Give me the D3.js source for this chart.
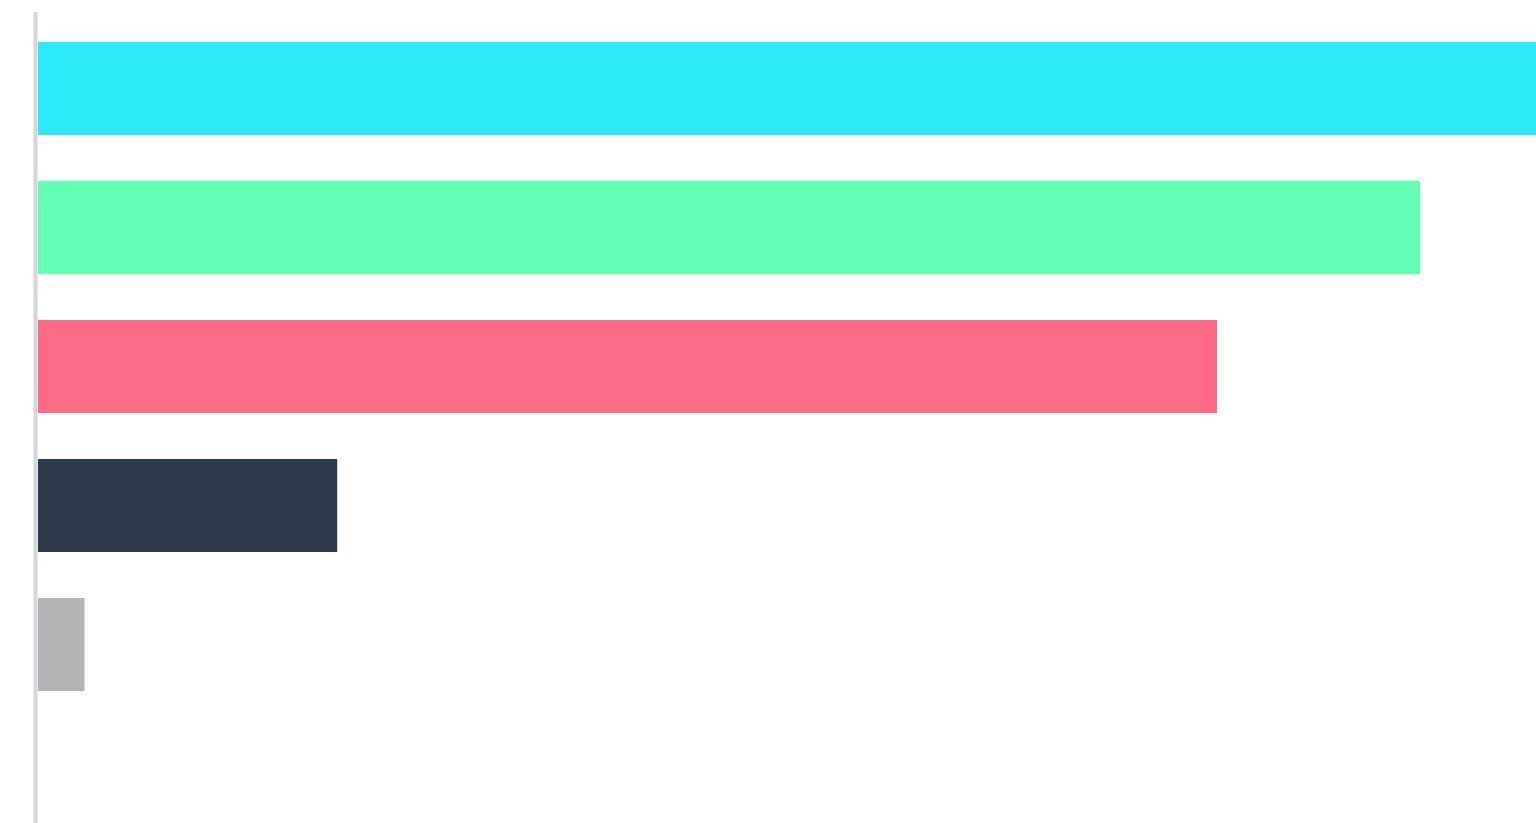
<!DOCTYPE html>
<html>
<head>
<meta charset="utf-8">
<script src="https://cdn.jsdelivr.net/npm/d3@7"></script>
<style>
  html, body { margin: 0; padding: 0; background: #ffffff; overflow: hidden; }
  svg { display: block; }
</style>
</head>
<body>
<div id="chart"></div>
<script>
const categories = ["A", "B", "C", "D", "E"];
const values = [100, 92.15, 78.6, 19.95, 3.1];
const colors = ["#2DE9F8", "#63FFB3", "#FC6B84", "#2E3C4D", "#B3B3B3"];

const W = 1536, H = 823;
const svg = d3.select("#chart").append("svg").attr("width", W).attr("height", H);

const x = d3.scaleLinear().domain([0, 100]).range([38, 1538]);
const y = d3.scaleBand().domain(categories).range([42, 691]).paddingInner(0.331).paddingOuter(0);

svg.selectAll("rect.bar")
  .data(values)
  .enter().append("rect")
  .attr("class", "bar")
  .attr("x", x(0))
  .attr("y", (d, i) => y(categories[i]))
  .attr("width", d => x(d) - x(0))
  .attr("height", y.bandwidth())
  .attr("fill", (d, i) => colors[i]);

// vertical axis line
svg.append("line")
  .attr("x1", 35.5).attr("x2", 35.5)
  .attr("y1", 12).attr("y2", H)
  .attr("stroke", "#d3d7dd")
  .attr("stroke-width", 4);
</script>
</body>
</html>
